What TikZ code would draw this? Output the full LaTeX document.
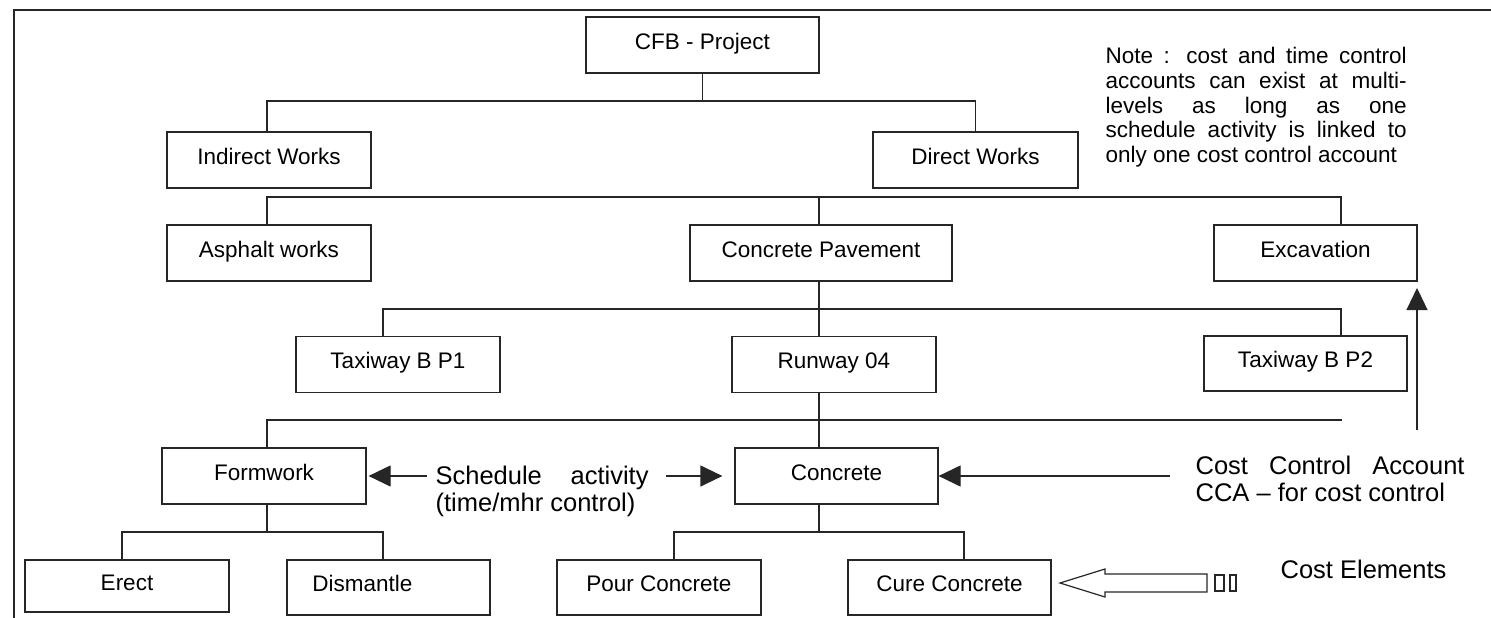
\documentclass[tikz,border=0pt]{standalone}
\usepackage{fontspec}
\setmainfont{Liberation Sans}
\usetikzlibrary{arrows.meta}
\begin{document}
\begin{tikzpicture}[x=1pt,y=-1pt,
  line width=1.2pt, draw=black!85,
  box/.style={draw=black!85, line width=1.2pt, minimum width=204pt, minimum height=56pt,
    inner sep=0pt, font=\fontsize{22.5}{27}\selectfont, text height=16pt, text depth=8pt},
  note/.style={font=\fontsize{22.5}{24.8}\selectfont, inner sep=0pt, align=left},
  ann/.style={font=\fontsize{25.5}{27}\selectfont, inner sep=0pt, align=left},
  tri/.style={-{Triangle[length=22pt,width=21pt]}},
]
\useasboundingbox (0,0) rectangle (1491,618);
% frame
\draw (14,618) -- (14,10) -- (1491,10);

% boxes
\node[box, minimum width=233pt] (CFB) at (702.5,45) {CFB - Project};
\node[box] (IW) at (269,160) {Indirect Works};
\node[box, minimum width=205pt] (DW) at (975.5,160) {Direct Works};
\node[box] (AW) at (269,253) {Asphalt works};
\node[box, minimum width=262pt] (CP) at (821,253) {Concrete Pavement};
\node[box, minimum width=203pt] (EX) at (1315.5,253) {Excavation};
\node[box] (T1) at (398,364.5) {Taxiway B P1};
\node[box] (RW) at (834,364.5) {Runway 04};
\node[box, minimum width=203pt, minimum height=55pt] (T2) at (1305.5,363.5) {Taxiway B P2};
\node[box] (FW) at (264,476) {Formwork};
\node[box, minimum width=203pt] (CO) at (836.5,476) {Concrete};
\node[box, minimum height=52pt] (ER) at (127,586) {Erect};
\node[box, minimum width=203pt, minimum height=55pt] (DI) at (388.5,587.5) {Dismantle\hspace*{52pt}};
\node[box, minimum height=55pt] (PC) at (659,587.5) {Pour Concrete};
\node[box, minimum width=203pt, minimum height=55pt] (CC) at (949.5,587.5) {Cure Concrete};

% bus levels and stub x positions
\coordinate (L1) at (0,101);
\coordinate (L2) at (0,197);
\coordinate (L3) at (0,309);
\coordinate (L4) at (0,420);
\coordinate (L5) at (0,532);
\coordinate (sp) at (819,0);
\coordinate (xa) at (267,0);
\coordinate (xe) at (1341,0);
\coordinate (xt) at (383,0);
\coordinate (xr) at (1342,0);
\coordinate (xer) at (122,0);
\coordinate (xpc) at (674,0);
\coordinate (xcc) at (964,0);

% connectors
\draw (CFB.south) -- (CFB.south |- L1);
\draw (IW.north -| xa) |- (L1 -| DW.north) -- (DW.north);
\draw (AW.north -| xa) |- (L2 -| xe) -- (EX.north -| xe);
\draw (CP.north -| sp) -- (L2 -| sp);
\draw (CP.south -| sp) -- (RW.north -| sp);
\draw (T1.north -| xt) |- (L3 -| xe) -- (T2.north -| xe);
\draw (RW.south -| sp) -- (CO.north -| sp);
\draw (FW.north -| xa) |- (L4 -| xr);
\draw (FW.south -| xa) -- (L5 -| xa);
\draw (ER.north -| xer) |- (L5 -| xt) -- (DI.north -| xt);
\draw (CO.south -| sp) -- (L5 -| sp);
\draw (PC.north -| xpc) |- (L5 -| xcc) -- (CC.north -| xcc);

% note
\node[note, anchor=north west] (NT) at (1105,46.5)
  {\makebox[301pt][s]{Note : cost and time control}\\
   \makebox[301pt][s]{accounts can exist at multi-}\\
   \makebox[301pt][s]{levels as long as one}\\
   \makebox[301pt][s]{schedule activity is linked to}\\
   only one cost control account};

% upward arrow towards Excavation
\coordinate (ua0) at (1417,430);
\coordinate (ua1) at (1417,288);
\draw[tri] (ua0) -- (ua1);

% schedule activity
\node[ann, anchor=north west] (SA) at (435,465)
  {\makebox[213pt][s]{Schedule activity}\\(time/mhr control)};
\coordinate (sal) at (427,476);
\coordinate (sar) at (666,476);
\draw[tri] (sal) -- ([xshift=2pt]FW.east);
\draw[tri] (sar) -- ([xshift=-12pt]CO.west);

% cost control account
\node[ann, anchor=north west] (CCA) at (1195,455)
  {\makebox[269pt][s]{Cost Control Account}\\CCA – for cost control};
\coordinate (cca0) at (1170,476);
\draw[tri] (cca0) -- (CO.east);

% cost elements
\node[ann, anchor=base west] (CE) at (1280,578) {Cost Elements};
\draw (1060,583) -- (1105,569) -- (1105,574) -- (1207,574) -- (1207,592)
  -- (1105,592) -- (1105,597) -- cycle;
\draw (1215,575) rectangle (1224,591);
\draw (1230,575) rectangle (1236,591);
\end{tikzpicture}
\end{document}
